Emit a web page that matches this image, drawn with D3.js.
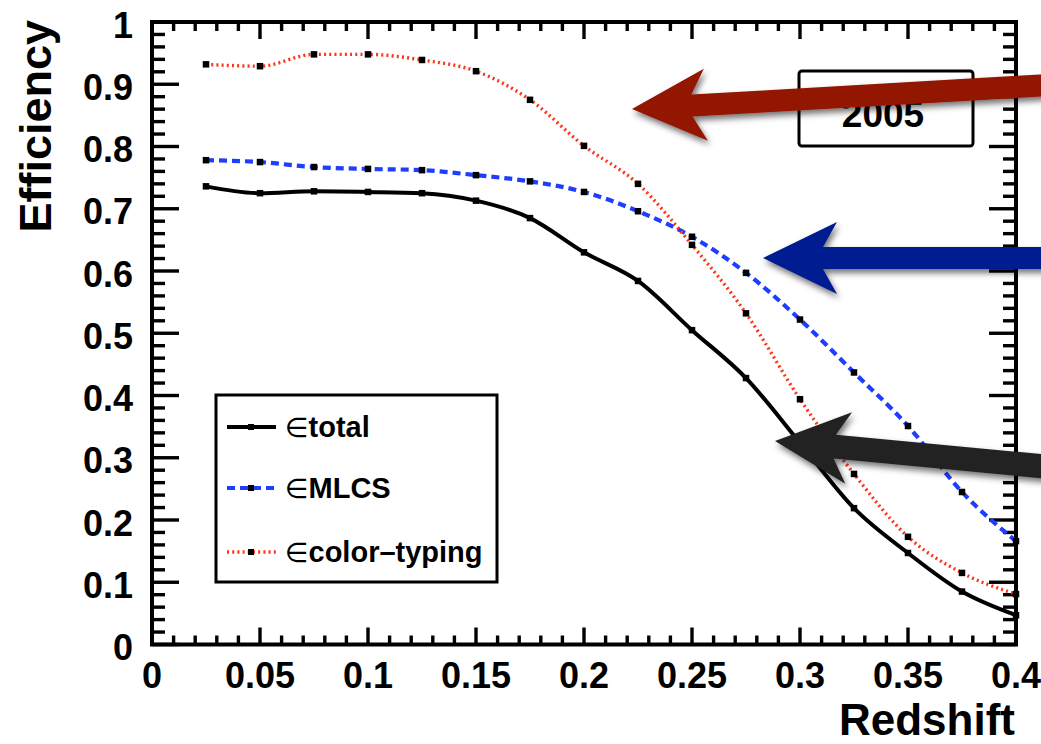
<!DOCTYPE html>
<html>
<head>
<meta charset="utf-8">
<script src="https://cdn.jsdelivr.net/npm/d3@7"></script>
<style>
  html, body { margin: 0; padding: 0; background: #fff; }
  svg { display: block; font-family: "Liberation Sans", Arial, Helvetica, sans-serif; }
</style>
</head>
<body>
<svg id="chart" width="1041" height="744"></svg>
<script>
// Redshift bins (bin centres)
const redshift = [0.025, 0.05, 0.075, 0.1, 0.125, 0.15, 0.175, 0.2, 0.225, 0.25, 0.275, 0.3, 0.325, 0.35, 0.375, 0.4];

// Efficiency per redshift bin
const effTotal = [0.736, 0.725, 0.728, 0.727, 0.725, 0.713, 0.685, 0.630, 0.584, 0.505, 0.428, 0.324, 0.219, 0.147, 0.085, 0.047];
const effMLCS = [0.778, 0.775, 0.767, 0.764, 0.762, 0.754, 0.744, 0.727, 0.696, 0.655, 0.597, 0.522, 0.437, 0.351, 0.245, 0.166];
const effColor = [0.932, 0.929, 0.948, 0.948, 0.939, 0.921, 0.875, 0.801, 0.740, 0.642, 0.532, 0.394, 0.274, 0.173, 0.115, 0.081];

// Axis ticks and labels
const xMajorTicks = [0, 0.05, 0.1, 0.15, 0.2, 0.25, 0.3, 0.35, 0.4];
const xTickLabels = ["0", "0.05", "0.1", "0.15", "0.2", "0.25", "0.3", "0.35", "0.4"];
const yMajorTicks = [0, 0.1, 0.2, 0.3, 0.4, 0.5, 0.6, 0.7, 0.8, 0.9, 1];
const yTickLabels = ["0", "0.1", "0.2", "0.3", "0.4", "0.5", "0.6", "0.7", "0.8", "0.9", "1"];

const seriesNames = ["total", "MLCS", "color\u2013typing"];
const yearLabel = "2005";

const svg = d3.select("#chart");
const plotLeft = 152, plotRight = 1016, plotTop = 22, plotBottom = 644.5;

const x = d3.scaleLinear().domain([0, 0.4]).range([plotLeft, plotRight]);
const y = d3.scaleLinear().domain([0, 1]).range([plotBottom, plotTop]);

const defs = svg.append("defs");
const shadow = defs.append("filter").attr("id", "shadow")
  .attr("x", "-20%").attr("y", "-40%").attr("width", "140%").attr("height", "180%");
shadow.append("feDropShadow").attr("dx", 2).attr("dy", 4).attr("stdDeviation", 3)
  .attr("flood-color", "#000").attr("flood-opacity", 0.55);

// ---- ticks (inward on all four sides) ----
const xMinor = d3.range(0, 41).map(i => i / 100);
const yMinor = d3.range(0, 51).map(i => i / 50);
const isMajorX = v => xMajorTicks.some(t => Math.abs(t - v) < 1e-9);
const isMajorY = v => yMajorTicks.some(t => Math.abs(t - v) < 1e-9);

const tickG = svg.append("g").attr("stroke", "#000").attr("stroke-width", 3.4);
xMinor.forEach(v => {
  const len = isMajorX(v) ? 17 : 9;
  tickG.append("line").attr("x1", x(v)).attr("x2", x(v)).attr("y1", plotBottom).attr("y2", plotBottom - len);
  tickG.append("line").attr("x1", x(v)).attr("x2", x(v)).attr("y1", plotTop).attr("y2", plotTop + len);
});
yMinor.forEach(v => {
  const len = isMajorY(v) ? 27 : 13;
  tickG.append("line").attr("x1", plotLeft).attr("x2", plotLeft + len).attr("y1", y(v)).attr("y2", y(v));
  tickG.append("line").attr("x1", plotRight).attr("x2", plotRight - len).attr("y1", y(v)).attr("y2", y(v));
});

// frame
svg.append("rect").attr("x", plotLeft).attr("y", plotTop)
  .attr("width", plotRight - plotLeft).attr("height", plotBottom - plotTop)
  .attr("fill", "none").attr("stroke", "#000").attr("stroke-width", 4);

// tick labels
svg.append("g").selectAll("text").data(xMajorTicks).join("text")
  .attr("x", d => x(d)).attr("y", 688)
  .attr("text-anchor", "middle").attr("font-size", 36).attr("font-weight", "bold")
  .text((d, i) => xTickLabels[i]);
svg.append("g").selectAll("text").data(yMajorTicks).join("text")
  .attr("x", 133).attr("y", d => y(d) + 15.5)
  .attr("text-anchor", "end").attr("font-size", 36).attr("font-weight", "bold")
  .text((d, i) => yTickLabels[i]);

// axis titles
svg.append("text").attr("transform", `translate(51,${plotTop - 2}) rotate(-90)`)
  .attr("text-anchor", "end").attr("font-size", 45).attr("font-weight", "bold")
  .text("Efficiency");
svg.append("text").attr("x", 1015).attr("y", 735)
  .attr("text-anchor", "end").attr("font-size", 44).attr("font-weight", "bold")
  .text("Redshift");

// ---- data curves ----
const styles = [
  { values: effTotal, color: "#000", width: 4, dash: null },
  { values: effMLCS, color: "#1f3dff", width: 4.2, dash: "8,5" },
  { values: effColor, color: "#ff3318", width: 3.4, dash: "2,3.2" }
];
const line = d3.line().x(d => x(d[0])).y(d => y(d[1])).curve(d3.curveMonotoneX);
const plotG = svg.append("g");
styles.forEach(s => {
  const pts = redshift.map((z, i) => [z, s.values[i]]);
  plotG.append("path").datum(pts).attr("d", line)
    .attr("fill", "none").attr("stroke", s.color).attr("stroke-width", s.width)
    .attr("stroke-dasharray", s.dash);
});
styles.forEach(s => {
  plotG.append("g").selectAll("rect").data(redshift).join("rect")
    .attr("x", (d) => x(d) - 3.25).attr("y", (d, i) => y(s.values[i]) - 3.25)
    .attr("width", 6.5).attr("height", 6.5).attr("fill", "#000");
});

// ---- legend ----
const legG = svg.append("g");
legG.append("rect").attr("x", 216).attr("y", 395).attr("width", 281).attr("height", 187)
  .attr("fill", "#fff").attr("stroke", "#000").attr("stroke-width", 3);
const legRows = [427, 488, 552];
styles.forEach((s, i) => {
  const yy = legRows[i];
  legG.append("line").attr("x1", 227).attr("x2", 276).attr("y1", yy).attr("y2", yy)
    .attr("stroke", s.color).attr("stroke-width", s.width).attr("stroke-dasharray", s.dash);
  legG.append("rect").attr("x", 248).attr("y", yy - 3).attr("width", 6).attr("height", 6).attr("fill", "#000");
  const t = legG.append("text").attr("x", 285).attr("y", yy + 10).attr("font-size", 29);
  t.append("tspan").attr("font-weight", "normal").attr("font-family", "DejaVu Sans").attr("font-size", 27).text("\u2208");
  t.append("tspan").attr("font-weight", "bold").text(seriesNames[i]);
});

// ---- year box ----
svg.append("rect").attr("x", 799).attr("y", 71).attr("width", 174).attr("height", 75).attr("rx", 3)
  .attr("fill", "#fff").attr("stroke", "#000").attr("stroke-width", 3);
svg.append("text").attr("x", 883).attr("y", 127).attr("text-anchor", "middle")
  .attr("font-size", 37).attr("font-weight", "bold").text(yearLabel);

// ---- annotation arrows ----
function arrowPath(tail, tip, headLen, headHalf, notch, shaftHalf) {
  const dx = tip[0] - tail[0], dy = tip[1] - tail[1];
  const L = Math.hypot(dx, dy);
  const ux = dx / L, uy = dy / L;     // along shaft towards tip
  const px = -uy, py = ux;            // perpendicular
  const P = (a, b) => [tip[0] - ux * a + px * b, tip[1] - uy * a + py * b];
  const pts = [
    tip,
    P(headLen, headHalf),
    P(notch, shaftHalf),
    P(L, shaftHalf),
    P(L, -shaftHalf),
    P(notch, -shaftHalf),
    P(headLen, -headHalf)
  ];
  return d3.line()(pts) + "Z";
}
const arrows = [
  { tail: [1050, 85], tip: [632, 109], color: "#921400", half: 11 },
  { tail: [1050, 258], tip: [763, 258], color: "#041a91", half: 11 },
  { tail: [1050, 467], tip: [775, 441], color: "#232323", half: 12 }
];
const arrG = svg.append("g").attr("filter", "url(#shadow)");
arrows.forEach(a => {
  arrG.append("path").attr("d", arrowPath(a.tail, a.tip, 74, 36, 60, a.half)).attr("fill", a.color);
});
</script>
</body>
</html>
